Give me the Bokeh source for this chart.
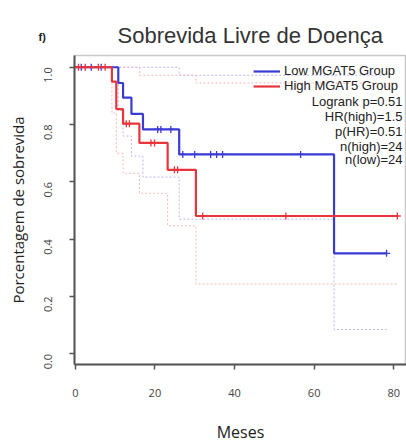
import math
from bokeh.plotting import figure
from bokeh.models import Range1d, Label, Legend, LegendItem, FixedTicker, PrintfTickFormatter, Title
from bokeh.embed import file_html
from bokeh.resources import INLINE
from bokeh.core.properties import value

# ---- data ----
low_times = [0, 10.8, 12.0, 14.1, 17.0, 26.1, 65.0, 78.2]
low_surv = [1.0, 0.945, 0.894, 0.837, 0.783, 0.696, 0.351, 0.351]
low_cens_t = [1.5, 4.0, 6.5, 20.7, 21.5, 24.0, 27.0, 30.0, 34.0, 35.5, 37.0, 56.6, 78.2]
low_cens_s = [1.0, 1.0, 1.0, 0.783, 0.783, 0.783, 0.696, 0.696, 0.696, 0.696, 0.696, 0.696, 0.351]

high_times = [0, 9.2, 10.3, 12.0, 16.1, 23.2, 30.3, 80.9]
high_surv = [1.0, 0.95, 0.854, 0.803, 0.736, 0.642, 0.481, 0.481]
high_cens_t = [0.8, 2.5, 5.8, 7.5, 12.8, 13.6, 19.0, 19.9, 24.9, 25.7, 32.0, 52.9, 80.9]
high_cens_s = [1.0, 1.0, 1.0, 1.0, 0.803, 0.803, 0.736, 0.736, 0.642, 0.642, 0.481, 0.481, 0.481]

low_up_t = [0, 26.1, 78.2]
low_up = [1.0, 0.972, 0.972]
low_lo_t = [0, 10.8, 12.0, 14.1, 17.0, 26.1, 65.0, 78.2]
low_lo = [1.0, 0.85, 0.76, 0.69, 0.617, 0.47, 0.085, 0.085]
high_up_t = [0, 16.1, 30.3, 80.9]
high_up = [1.0, 0.972, 0.945, 0.945]
high_lo_t = [0, 9.2, 10.3, 12.0, 16.1, 23.2, 30.3, 80.9]
high_lo = [1.0, 0.84, 0.70, 0.63, 0.56, 0.447, 0.244, 0.244]

stats = ["Logrank p=0.51", "HR(high)=1.5", "p(HR)=0.51", "n(high)=24", "n(low)=24"]
x_ticks = [0, 20, 40, 60, 80]
y_ticks = [0.0, 0.2, 0.4, 0.6, 0.8, 1.0]

BLUE = "#3a3ad6"
RED = "#e8343a"

p = figure(width=406, height=445, output_backend="svg", toolbar_location=None,
           x_range=Range1d(-0.2, 83.2), y_range=Range1d(-0.037, 1.041),
           min_border_left=74, min_border_right=0, min_border_top=55, min_border_bottom=72)

# panel tag (outermost title row)
p.title = Title(text="f)", align="left", offset=-36, text_font="Liberation Sans",
                text_font_size="11px", text_font_style="bold", text_color="#222222",
                standoff=-61, vertical_align="bottom")

main_title = Title(text="Sobrevida Livre de Doença", text_font="Liberation Sans",
                   text_font_size="22px", text_font_style="normal", text_color="#333333",
                   align="left", offset=43, standoff=16)
p.add_layout(main_title, "above")

p.grid.visible = False
p.background_fill_color = "white"
p.border_fill_color = "white"
p.outline_line_color = "#c8c8c8"
p.outline_line_width = 1.5

for ax in (p.xaxis[0], p.yaxis[0]):
    ax.axis_line_color = "#555555"
    ax.axis_line_width = 2
    ax.major_tick_line_color = "#555555"
    ax.major_tick_line_width = 1.5
    ax.major_tick_out = 5
    ax.major_tick_in = 0
    ax.minor_tick_out = 0
    ax.minor_tick_in = 0
    ax.major_label_text_font = "Open Sans"
    ax.major_label_text_font_size = "11px"
    ax.major_label_text_color = "#444444"

p.xaxis.ticker = FixedTicker(ticks=x_ticks)
p.yaxis.ticker = FixedTicker(ticks=y_ticks)
p.yaxis.formatter = PrintfTickFormatter(format="%.1f")
p.xaxis.major_label_standoff = 19
p.yaxis.major_label_standoff = 21
p.yaxis.major_label_orientation = math.pi / 2
p.xaxis.axis_label = "Meses"
p.xaxis.axis_label_text_font = "Open Sans"
p.xaxis.axis_label_text_font_size = "16px"
p.xaxis.axis_label_text_font_style = "normal"
p.xaxis.axis_label_text_color = "#222222"
p.xaxis.axis_label_standoff = 21

p.yaxis.axis_label = "Porcentagem de sobrevida"
p.yaxis.axis_label_text_font = "Open Sans"
p.yaxis.axis_label_text_font_size = "15px"
p.yaxis.axis_label_text_font_style = "normal"
p.yaxis.axis_label_text_color = "#222222"
p.yaxis.axis_label_standoff = 10

# confidence bounds
p.step(low_up_t, low_up, mode="after", line_color="#b8b8f0", line_width=1, line_dash="2 2")
p.step(low_lo_t, low_lo, mode="after", line_color="#b8b8f0", line_width=1, line_dash="2 2")
p.step(high_up_t, high_up, mode="after", line_color="#f4b8b8", line_width=1, line_dash="2 2")
p.step(high_lo_t, high_lo, mode="after", line_color="#f4b8b8", line_width=1, line_dash="2 2")

# KM curves
r_low = p.step(low_times, low_surv, mode="after", line_color=BLUE, line_width=2.2)
p.scatter(low_cens_t, low_cens_s, marker="cross", size=7, line_color=BLUE, line_width=1.3)
r_high = p.step(high_times, high_surv, mode="after", line_color=RED, line_width=2.2)
p.scatter(high_cens_t, high_cens_s, marker="cross", size=7, line_color=RED, line_width=1.3)

legend = Legend(items=[LegendItem(label="Low MGAT5 Group", renderers=[r_low]),
                       LegendItem(label="High MGAT5 Group", renderers=[r_high])],
                location="top_right", margin=8, padding=2, spacing=0,
                label_text_font="Liberation Sans", label_text_font_size="13px",
                label_text_color="#222222", label_height=8, glyph_height=8,
                glyph_width=27, label_standoff=4,
                border_line_color=None, background_fill_alpha=0)
p.add_layout(legend)

stat_y = [0.882, 0.827, 0.776, 0.725, 0.678]
for s, yy in zip(stats, stat_y):
    p.add_layout(Label(x=82.2, y=yy, text=s, text_font="Liberation Sans",
                       text_font_size="13px", text_color="#222222",
                       text_align="right", text_baseline="middle"))

open("out.html", "w").write(file_html(p, INLINE))
